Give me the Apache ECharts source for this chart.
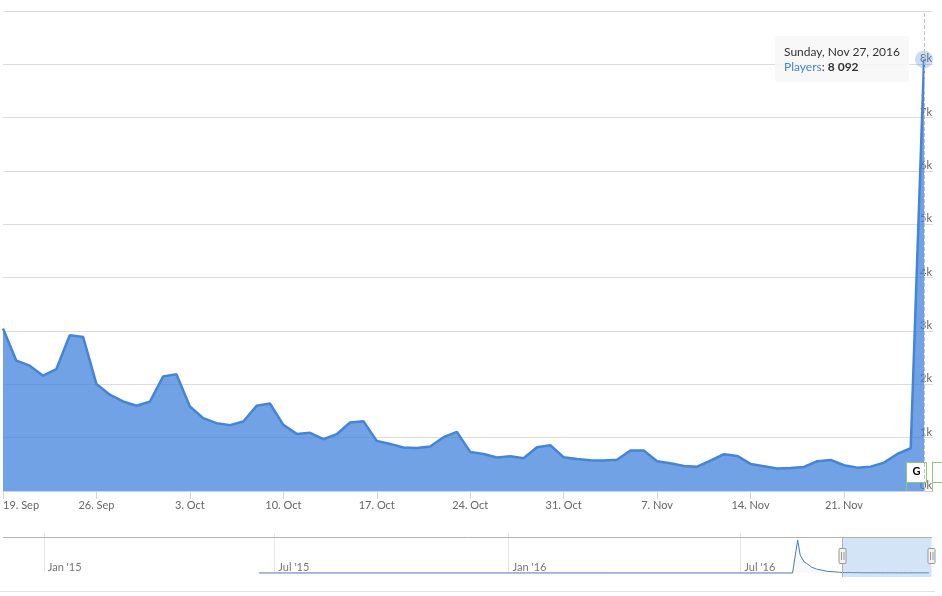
<!DOCTYPE html>
<html>
<head>
<meta charset="utf-8">
<script src="https://cdn.jsdelivr.net/npm/echarts@6/dist/echarts.min.js"></script>
<style>
html,body{margin:0;padding:0;background:#fff;}
#chart{width:942px;height:596px;}
</style>
</head>
<body>
<div id="chart"></div>
<script>
// ---- data ----
const startDate = '2016-09-19';
const players = [
  3045, 2444, 2350, 2162, 2287, 2920, 2889, 2005, 1805, 1679, 1598, 1673,
  2149, 2187, 1585, 1366, 1272, 1235, 1303, 1598, 1641, 1241, 1071, 1090,
  971, 1065, 1285, 1310, 940, 883, 815, 808, 833, 1009, 1109, 733,
  695, 627, 651, 614, 821, 858, 633,
  601, 576, 570, 585, 758, 758, 558, 520, 470, 457, 570, 689,
  658, 508, 464, 420, 432, 451, 558, 583, 483, 438, 457, 532,
  695, 802, 8092
];
const xTickDates = ['2016-09-19','2016-09-26','2016-10-03','2016-10-10','2016-10-17',
  '2016-10-24','2016-10-31','2016-11-07','2016-11-14','2016-11-21'];
const flagDates = ['2016-11-25T16:15:00Z', '2016-11-27T14:00:00Z'];
const flagTexts = ['G', ''];
const navDates = ['2015-06-19','2016-08-11','2016-08-15','2016-08-17','2016-08-20',
  '2016-08-22','2016-08-26','2016-08-30','2016-09-07','2016-09-17'];
const navValues = [0, 0, 212000, 115000, 72000, 62000, 37000, 24000, 11000, 4500];
const navTickDates = ['2015-01-01','2015-07-01','2016-01-01','2016-07-01'];
const navTickLabels = ["Jan '15","Jul '15","Jan '16","Jul '16"];

// ---- helpers ----
const DAY = 86400000;
const toMs = s => Date.parse(s.length === 10 ? s + 'T00:00:00Z' : s);
const startMs = toMs(startDate);
const toDay = s => (toMs(s) - startMs) / DAY;
const MONTHS = ['Jan','Feb','Mar','Apr','May','Jun','Jul','Aug','Sep','Oct','Nov','Dec'];
const WEEKDAYS = ['Sunday','Monday','Tuesday','Wednesday','Thursday','Friday','Saturday'];
const fmtNum = v => String(Math.round(v)).replace(/\B(?=(\d{3})+(?!\d))/g, ' ');

const mainData = players.map((v, i) => [i, v]);
const lastIdx = players.length - 1;
const xTicks = xTickDates.map(toDay);
const flagData = flagDates.map(d => [toDay(d), 0]);
const navData = navDates.map((d, i) => [toMs(d), navValues[i]])
  .concat(players.map((v, i) => [startMs + i * DAY, v]));
const navTicks = navTickDates.map(toMs);
const navMin = Date.UTC(2014, 10, 30);
const navMax = Date.UTC(2016, 10, 28, 12);
const mainMax = lastIdx + 0.67;

const lineColor = '#4684d6';
const flagColor = '#8fc87a';

const chart = echarts.init(document.getElementById('chart'));
chart.setOption({
  animation: false,
  textStyle: { fontFamily: 'Lato' },
  grid: [
    { left: 3, right: 9, top: 11, height: 480 },
    { left: 3, right: 10, top: 537, height: 40 }
  ],
  xAxis: [
    {
      type: 'value', gridIndex: 0, min: 0, max: mainMax,
      axisLine: { show: true, lineStyle: { color: '#ccd6eb' } },
      axisTick: { show: true, length: 8, customValues: xTicks, lineStyle: { color: '#ccd6eb' } },
      splitLine: { show: false },
      axisLabel: {
        customValues: xTicks, color: '#666', fontSize: 11, margin: 9,
        alignMinLabel: 'left',
        formatter: v => {
          const d = new Date(startMs + Math.round(v) * DAY);
          return d.getUTCDate() + '. ' + MONTHS[d.getUTCMonth()];
        }
      }
    },
    {
      type: 'value', gridIndex: 1, min: navMin, max: navMax,
      axisLine: { show: false },
      axisTick: { show: true, inside: true, length: 40, customValues: navTicks, lineStyle: { color: '#e6e6e6' } },
      splitLine: { show: false },
      axisLabel: {
        customValues: navTicks, inside: true, color: '#777', fontSize: 11, margin: 4,
        align: 'left', verticalAlign: 'bottom', padding: [0, 0, 0, 4],
        formatter: v => navTickLabels[navTicks.indexOf(v)] || ''
      }
    }
  ],
  yAxis: [
    {
      type: 'value', gridIndex: 0, position: 'right', min: 0, max: 9000, interval: 1000,
      axisLine: { show: false }, axisTick: { show: false },
      splitLine: { show: true, lineStyle: { color: '#dcdcdc' } },
      axisLabel: {
        inside: true, margin: 1, color: '#666', fontSize: 11, verticalAlign: 'bottom',
        showMaxLabel: false,
        formatter: v => (v / 1000) + 'k'
      }
    },
    {
      type: 'value', gridIndex: 1, min: -26000, max: 231000, show: false
    }
  ],
  tooltip: {
    trigger: 'axis',
    triggerOn: 'none',
    alwaysShowContent: true,
    transitionDuration: 0,
    backgroundColor: 'rgba(247,247,247,0.88)',
    borderWidth: 0,
    padding: [8, 9],
    textStyle: { fontFamily: 'Lato', fontSize: 12, color: '#333' },
    extraCssText: 'box-shadow:none;border-radius:3px;',
    axisPointer: { type: 'line', animation: false, lineStyle: { color: '#c0c0c0', width: 1 } },
    position: function (point, params, dom, rect, size) {
      const p = chart.convertToPixel({ xAxisIndex: 0, yAxisIndex: 0 }, mainData[lastIdx]);
      return [p[0] - size.contentSize[0] - 15, p[1] - 23];
    },
    formatter: function (params) {
      const p = params.find(q => q.seriesIndex === 0) || params[0];
      const d = new Date(startMs + Math.round(p.value[0]) * DAY);
      const title = WEEKDAYS[d.getUTCDay()] + ', ' + MONTHS[d.getUTCMonth()] + ' ' + d.getUTCDate() + ', ' + d.getUTCFullYear();
      return '<div style="line-height:15px;font-family:Lato;font-size:12px;color:#333">' + title + '</div>' +
        '<div style="line-height:15px;font-family:Lato;font-size:12px;color:#333"><span style="color:' + lineColor + '">Players</span>: <b>' + fmtNum(p.value[1]) + '</b></div>';
    }
  },
  series: [
    {
      name: 'Players', type: 'line', xAxisIndex: 0, yAxisIndex: 0,
      data: mainData, symbol: 'none', z: 2,
      lineStyle: { color: lineColor, width: 2.5 },
      itemStyle: { color: lineColor },
      areaStyle: { color: 'rgb(67,131,222)', opacity: 0.75 },
      emphasis: { disabled: true },
      markPoint: {
        silent: true, symbol: 'circle', symbolSize: 18, label: { show: false },
        itemStyle: { color: 'rgba(70,132,214,0.28)' },
        data: [{ coord: mainData[lastIdx] }]
      }
    },
    {
      name: 'flags', type: 'custom', xAxisIndex: 0, yAxisIndex: 0, z: 5,
      data: flagData, encode: { x: 0, y: 1 }, clip: false, silent: true,
      renderItem: function (params, api) {
        const p = api.coord([api.value(0), 0]);
        const w = 20, h = 20, gap = 9.5;
        const x = Math.round(p[0]) + 0.5, y0 = p[1];
        return {
          type: 'group', children: [
            { type: 'line', shape: { x1: x, y1: y0, x2: x, y2: y0 - gap - h }, style: { stroke: flagColor, lineWidth: 1 } },
            { type: 'rect', shape: { x: x, y: Math.round(y0 - gap - h) + 0.5, width: w, height: h }, style: { fill: '#fff', stroke: flagColor, lineWidth: 1 } },
            { type: 'text', style: { text: flagTexts[params.dataIndex], x: x + w / 2, y: y0 - gap - h / 2, align: 'center', verticalAlign: 'middle', fill: '#000', font: 'bold 11px Lato' } }
          ]
        };
      }
    },
    {
      name: 'navigator', type: 'line', xAxisIndex: 1, yAxisIndex: 1,
      data: navData, symbol: 'none', silent: true,
      lineStyle: { color: '#4f77b5', width: 1 },
      areaStyle: { color: 'rgba(79,119,181,0.06)' }
    },
    {
      name: 'navSelection', type: 'custom', xAxisIndex: 1, yAxisIndex: 1, z: 4,
      data: [[startMs, navMax]], encode: { x: [0, 1] }, clip: false, silent: true,
      renderItem: function (params, api) {
        const cs = params.coordSys;
        const s = Math.round(api.coord([api.value(0), 0])[0]) + 0.5;
        const e = Math.round(api.coord([api.value(1), 0])[0]) - 0.5;
        const top = cs.y + 0.5, bot = cs.y + cs.height;
        const midY = cs.y + 19;
        const handle = hx => ({
          type: 'group', children: [
            { type: 'rect', shape: { x: hx - 3.5, y: midY - 7.5, width: 7, height: 15, r: 1 }, style: { fill: '#f2f2f2', stroke: '#999', lineWidth: 1 } },
            { type: 'line', shape: { x1: hx - 1, y1: midY - 4, x2: hx - 1, y2: midY + 4 }, style: { stroke: '#999', lineWidth: 1 } },
            { type: 'line', shape: { x1: hx + 1.5, y1: midY - 4, x2: hx + 1.5, y2: midY + 4 }, style: { stroke: '#999', lineWidth: 1 } }
          ]
        });
        return {
          type: 'group', children: [
            { type: 'rect', shape: { x: s, y: cs.y, width: e - s, height: cs.height }, style: { fill: 'rgba(110,165,230,0.3)' } },
            { type: 'line', shape: { x1: cs.x, y1: top, x2: cs.x + cs.width, y2: top }, style: { stroke: '#b2b2b2', lineWidth: 1 } },
            { type: 'line', shape: { x1: s, y1: cs.y, x2: s, y2: bot }, style: { stroke: '#b2b2b2', lineWidth: 1 } },
            handle(s),
            handle(e)
          ]
        };
      }
    }
  ],
  graphic: [
    { type: 'rect', silent: true, shape: { x: 0, y: 591, width: 935, height: 1 }, style: { fill: '#e3e3e3' } }
  ]
});
chart.dispatchAction({ type: 'showTip', seriesIndex: 0, dataIndex: lastIdx });
</script>
</body>
</html>
